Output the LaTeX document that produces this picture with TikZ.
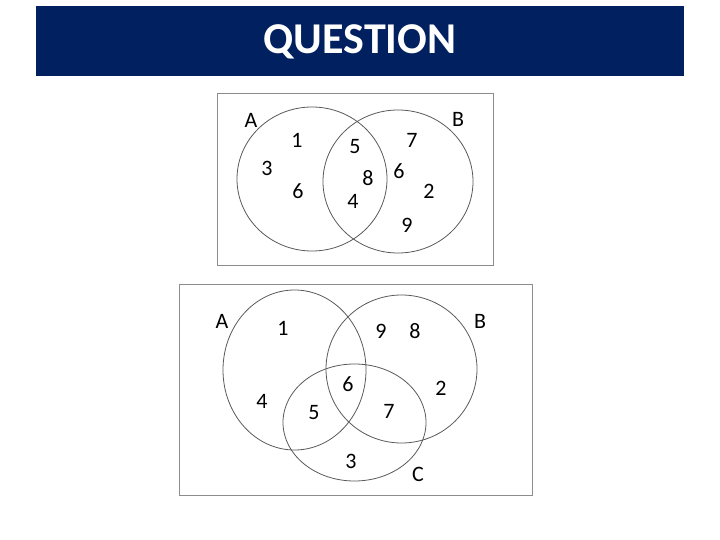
\documentclass[tikz,border=0pt]{standalone}
\usepackage{fontspec}
\setmainfont{Carlito}
\usetikzlibrary{calc}
\definecolor{titleblue}{RGB}{0,32,96}

\begin{document}
\begin{tikzpicture}[x=1pt,y=-1pt,
		venn/.style={draw=black!65, line width=0.8pt},
		frame/.style={draw=black!45, line width=0.9pt},
		num/.style={font=\fontsize{22}{22}\selectfont}]
		\useasboundingbox (0,0) rectangle (720,540);

		% title bar
		\fill[titleblue] (36,6) rectangle (684,76);
		\node[text=white, font=\bfseries\fontsize{44}{44}\selectfont] (title) at (360,42) {QUESTION};

		% two sets
		\coordinate (topA) at (312,179);
		\coordinate (topB) at (398,181.5);
		\draw[frame] (217,93) rectangle (493,265);
		\draw[venn] (topA) ellipse [x radius=75, y radius=72];
		\draw[venn] (topB) ellipse [x radius=75, y radius=71.5];

		\node[num] (topLabA) at ($(topA) + (-61,-59)$) {A};
		\node[num] (topA1) at ($(topA) + (-15,-39)$) {1};
		\node[num] (topA3) at ($(topA) + (-45,-11)$) {3};
		\node[num] (topA6) at ($(topA) + (-14,12)$) {6};
		\node[num] (topAB5) at ($(topA) + (43,-32)$) {5};
		\node[num] (topAB8) at ($(topA) + (56,-1)$) {8};
		\node[num] (topAB4) at ($(topA) + (41,22)$) {4};

		\node[num] (topLabB) at ($(topB) + (60,-62.5)$) {B};
		\node[num] (topB7) at ($(topB) + (14,-41.5)$) {7};
		\node[num] (topB6) at ($(topB) + (1,-10.5)$) {6};
		\node[num] (topB2) at ($(topB) + (31,9.5)$) {2};
		\node[num] (topB9) at ($(topB) + (9,43.5)$) {9};

		% three sets
		\coordinate (botA) at (294.5,370);
		\coordinate (botB) at (401.5,369);
		\coordinate (botC) at (354.5,422.5);
		\draw[frame] (179,284) rectangle (532,495);
		\draw[venn] (botA) ellipse [x radius=71.5, y radius=80];
		\draw[venn] (botB) ellipse [x radius=75.5, y radius=74];
		\draw[venn] (botC) ellipse [x radius=71.5, y radius=58.5];

		\node[num] (botLabA) at ($(botA) + (-72.5,-49)$) {A};
		\node[num] (botA1) at ($(botA) + (-11.5,-42)$) {1};
		\node[num] (botA4) at ($(botA) + (-32.5,31)$) {4};
		\node[num] (botAC5) at ($(botA) + (19.5,43)$) {5};
		\node[num] (botABC6) at ($(botA) + (53.5,14)$) {6};

		\node[num] (botLabB) at ($(botB) + (78.5,-48)$) {B};
		\node[num] (botB9) at ($(botB) + (-20.5,-38)$) {9};
		\node[num] (botB8) at ($(botB) + (13.5,-38)$) {8};
		\node[num] (botB2) at ($(botB) + (39.5,19)$) {2};
		\node[num] (botBC7) at ($(botB) + (-12.5,42)$) {7};

		\node[num] (botC3) at ($(botC) + (-3.5,38.5)$) {3};
		\node[num] (botLabC) at ($(botC) + (63.5,51.5)$) {C};
	\end{tikzpicture}
\end{document}
